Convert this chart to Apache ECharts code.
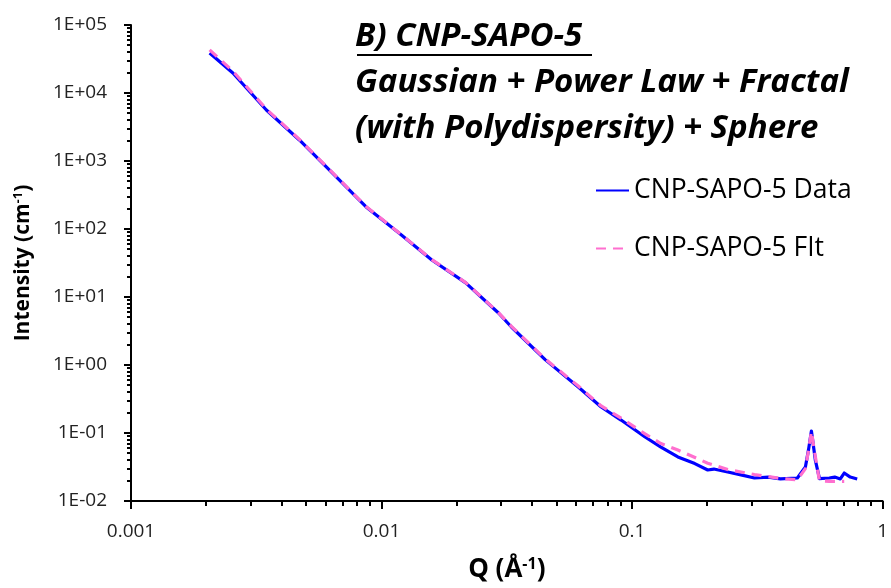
<!DOCTYPE html>
<html>
<head>
<meta charset="utf-8">
<script src="https://cdn.jsdelivr.net/npm/echarts@6/dist/echarts.min.js"></script>
<style>html,body{margin:0;padding:0;background:#fff}#c{width:891px;height:588px}</style>
</head>
<body>
<div id="c"></div>
<script>
// Q (1/Å) and intensity (1/cm)
const dataQ = [0.00206,0.00255,0.00347,0.0047,0.00636,0.00868,0.01174,0.01588,0.02168,0.0293,0.0330,0.0451,0.0610,0.0753,0.0904,0.1127,0.1304,0.1524,0.178,0.2005,0.212,0.241,0.275,0.308,0.35,0.391,0.457,0.492,0.506,0.520,0.539,0.560,0.613,0.644,0.678,0.703,0.743,0.792];
const dataI = [3.87e4,1.97e4,5.62e3,2.04e3,667,211,87.3,35.0,16.1,5.82,3.62,1.19,0.474,0.241,0.155,0.0873,0.0622,0.0444,0.0355,0.0286,0.0295,0.0267,0.024,0.0218,0.0225,0.0211,0.0218,0.0316,0.056,0.107,0.040,0.0214,0.0218,0.0225,0.0211,0.0258,0.0225,0.0211];
const fitQ = [0.00206,0.00255,0.00347,0.0047,0.00636,0.00868,0.01174,0.01588,0.02168,0.0293,0.0330,0.0451,0.0610,0.0753,0.0904,0.1127,0.1304,0.1524,0.2005,0.241,0.308,0.391,0.457,0.492,0.506,0.520,0.539,0.560,0.613,0.703];
const fitI = [4.3e4,2.1e4,5.8e3,2.08e3,680,214,88,35.5,16.3,5.9,3.7,1.22,0.49,0.25,0.165,0.097,0.07,0.0562,0.036,0.029,0.0245,0.0215,0.0205,0.03,0.055,0.105,0.045,0.0197,0.0195,0.0195];
const xMinor = [];
for (let d = -3; d < 0; d++) for (let m = 2; m <= 9; m++) xMinor.push(m * Math.pow(10, d));
const yMinor = [];
for (let d = -2; d < 5; d++) for (let m = 2; m <= 9; m++) yMinor.push(m * Math.pow(10, d));

const FONT = '"Open Sans", sans-serif';
const TW = 2; // tick / axis line width
const chart = echarts.init(document.getElementById('c'), null, {renderer: 'canvas'});

function yFmt(v) {
  const e = Math.round(Math.log10(v));
  const a = Math.abs(e);
  return '1E' + (e < 0 ? '-' : '+') + (a < 10 ? '0' : '') + a;
}
function xFmt(v) { return String(Number(v.toPrecision(1))); }

chart.setOption({
  animation: false,
  backgroundColor: '#fff',
  title: {
    left: 355, top: 14, padding: 0,
    text: '{t|B) CNP-SAPO-5}\n{t|Gaussian + Power Law + Fractal}\n{t|(with Polydispersity) + Sphere}',
    textStyle: {
      rich: {
        t: {fontFamily: FONT, fontSize: 33, fontWeight: 'bold', fontStyle: 'italic', color: '#000', lineHeight: 46}
      }
    }
  },
  graphic: [{
    type: 'rect', left: 357, top: 54, shape: {width: 235, height: 2}, style: {fill: '#000'}, silent: true
  }],
  legend: {
    orient: 'vertical', left: 595, top: 177, padding: 0,
    itemWidth: 33, itemHeight: 14, itemGap: 31,
    data: ['CNP-SAPO-5 Data', 'CNP-SAPO-5 FIt'],
    itemStyle: {opacity: 0},
    textStyle: {fontFamily: FONT, fontSize: 26.5, color: '#000'}
  },
  grid: {left: 131, right: 5, top: 25, bottom: 87, containLabel: false},
  xAxis: {
    type: 'log', logBase: 10, min: 0.001, max: 1, interval: 1,
    name: '{a|Q (Å}{s|-1}{a|)}', nameLocation: 'middle', nameGap: 55,
    nameTextStyle: {rich: {
      a: {fontFamily: FONT, fontSize: 26, fontWeight: 'bold', color: '#000'},
      s: {fontFamily: FONT, fontSize: 16, fontWeight: 'bold', color: '#000', verticalAlign: 'top', padding: [0, 0, 12, 0]}
    }},
    axisLine: {show: true, lineStyle: {color: '#000', width: TW}},
    axisTick: {show: true, length: 8, lineStyle: {color: '#000', width: TW}},
    splitLine: {show: false},
    axisLabel: {formatter: xFmt, fontFamily: FONT, fontSize: 19, color: '#222', margin: 21, showMaxLabel: true, showMinLabel: true}
  },
  yAxis: {
    type: 'log', logBase: 10, min: 0.01, max: 100000, interval: 1,
    name: '{a|Intensity (cm}{s|-1}{a|)}', nameLocation: 'middle', nameGap: 96, nameRotate: 90,
    nameTextStyle: {rich: {
      a: {fontFamily: FONT, fontSize: 21, fontWeight: 'bold', color: '#000'},
      s: {fontFamily: FONT, fontSize: 13, fontWeight: 'bold', color: '#000', verticalAlign: 'top', padding: [0, 0, 10, 0]}
    }},
    axisLine: {show: true, lineStyle: {color: '#000', width: TW}},
    axisTick: {show: true, length: 7, lineStyle: {color: '#000', width: TW}},
    splitLine: {show: false},
    axisLabel: {formatter: yFmt, fontFamily: FONT, fontSize: 19, color: '#222', margin: 24}
  },
  series: [
    {
      name: 'CNP-SAPO-5 Data', type: 'line', symbol: 'none', smooth: false,
      data: dataQ.map((q, i) => [q, dataI[i]]),
      lineStyle: {color: '#0000FF', width: 3.2, join: 'round'}, itemStyle: {color: '#0000FF'}, z: 2
    },
    {
      name: 'CNP-SAPO-5 FIt', type: 'line', symbol: 'none', smooth: false,
      data: fitQ.map((q, i) => [q, fitI[i]]),
      lineStyle: {color: '#FF6FCF', width: 3.2, type: [10, 7]}, itemStyle: {color: '#FF6FCF'}, z: 3
    },
    {
      type: 'custom', clip: false,
      data: xMinor.map(v => [v, 0.01]),
      renderItem: function (params, api) {
        const p = api.coord([api.value(0), api.value(1)]);
        return {type: 'rect', shape: {x: Math.round(p[0]) - TW / 2, y: p[1], width: TW, height: 5}, style: {fill: '#000'}};
      }
    },
    {
      type: 'custom', clip: false,
      data: yMinor.map(v => [0.001, v]),
      renderItem: function (params, api) {
        const p = api.coord([api.value(0), api.value(1)]);
        return {type: 'rect', shape: {x: p[0] - 4, y: Math.round(p[1]) - TW / 2, width: 4, height: TW}, style: {fill: '#000'}};
      }
    }
  ]
});
</script>
</body>
</html>
